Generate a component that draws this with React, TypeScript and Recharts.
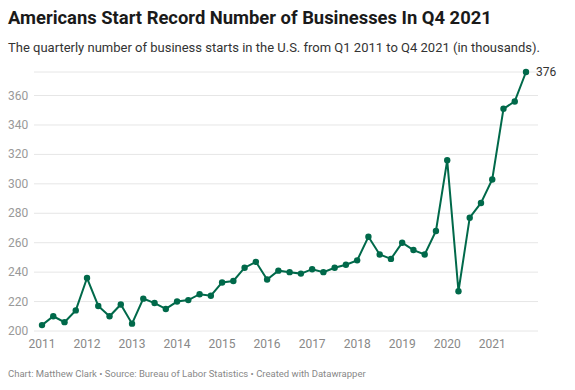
import React from "react";
import { LineChart, Line, XAxis, YAxis, CartesianGrid, LabelList } from "recharts";

const quarters = [
  "Q1 2011", "Q2 2011", "Q3 2011", "Q4 2011",
  "Q1 2012", "Q2 2012", "Q3 2012", "Q4 2012",
  "Q1 2013", "Q2 2013", "Q3 2013", "Q4 2013",
  "Q1 2014", "Q2 2014", "Q3 2014", "Q4 2014",
  "Q1 2015", "Q2 2015", "Q3 2015", "Q4 2015",
  "Q1 2016", "Q2 2016", "Q3 2016", "Q4 2016",
  "Q1 2017", "Q2 2017", "Q3 2017", "Q4 2017",
  "Q1 2018", "Q2 2018", "Q3 2018", "Q4 2018",
  "Q1 2019", "Q2 2019", "Q3 2019", "Q4 2019",
  "Q1 2020", "Q2 2020", "Q3 2020", "Q4 2020",
  "Q1 2021", "Q2 2021", "Q3 2021", "Q4 2021",
];

const starts = [
  204, 210, 206, 214,
  236, 217, 210, 218,
  205, 222, 219, 215,
  220, 221, 225, 224,
  233, 234, 243, 247,
  235, 241, 240, 239,
  242, 240, 243, 245,
  248, 264, 252, 249,
  260, 255, 252, 268,
  316, 227, 277, 287,
  303, 351, 356, 376,
];

const yTicks = [200, 220, 240, 260, 280, 300, 320, 340, 360];
const yearTicks = [0, 4, 8, 12, 16, 20, 24, 28, 32, 36, 40];
const yearLabels = ["2011", "2012", "2013", "2014", "2015", "2016", "2017", "2018", "2019", "2020", "2021"];

const data = quarters.map((q, i) => ({ i, quarter: q, value: starts[i] }));

const GREEN = "#00694a";
const FONT = "Roboto, 'Noto Sans', sans-serif";

const YTick = (props: any) => {
  const { y, payload } = props;
  return (
    <text x={8} y={y} dy={4} fill="#999" fontSize={12} fontFamily={FONT} textAnchor="start">
      {payload.value}
    </text>
  );
};

const LastLabel = (props: any) => {
  const { x, y, index, value } = props;
  if (index !== starts.length - 1) return null;
  return (
    <text x={x + 10} y={y} dy={4} fill="#333" fontSize={12} fontFamily={FONT}>
      {value}
    </text>
  );
};

export default function App() {
  return (
    <div style={{ position: "relative", width: 575, height: 390, background: "#fff", fontFamily: FONT }}>
      <style>{`body{margin:0}`}</style>
      <div style={{ position: "absolute", left: 8, top: 7, fontSize: 18.4, fontWeight: 700, color: "#1a1a1a", whiteSpace: "nowrap" }}>
        Americans Start Record Number of Businesses In Q4 2021
      </div>
      <div style={{ position: "absolute", left: 8, top: 40, fontSize: 13, color: "#333", whiteSpace: "nowrap" }}>
        The quarterly number of business starts in the U.S. from Q1 2011 to Q4 2021 (in thousands).
      </div>
      <div style={{ position: "absolute", left: 0, top: 0 }}>
        <LineChart width={575} height={360} data={data} margin={{ top: 72, right: 37, bottom: 9, left: 8 }}>
          <CartesianGrid vertical={false} stroke="#e6e6e6" />
          <XAxis
            dataKey="i"
            type="number"
            domain={[0, 43]}
            ticks={yearTicks}
            tickFormatter={(v: number) => yearLabels[v / 4]}
            padding={{ left: 8, right: 12 }}
            axisLine={false}
            tickLine={false}
            height={20}
            tick={{ fill: "#888", fontSize: 12, fontFamily: FONT }}
          />
          <YAxis
            domain={[200, 376]}
            ticks={yTicks}
            width={26}
            axisLine={false}
            tickLine={false}
            tick={<YTick />}
          />
          <Line
            dataKey="value"
            stroke={GREEN}
            strokeWidth={2}
            dot={{ r: 3.2, fill: GREEN, stroke: GREEN, strokeWidth: 0 }}
            activeDot={false}
            isAnimationActive={false}
          >
            <LabelList dataKey="value" content={<LastLabel />} />
          </Line>
        </LineChart>
      </div>
      <div style={{ position: "absolute", left: 8, top: 368, fontSize: 9.5, color: "#888", whiteSpace: "nowrap" }}>
        Chart: Matthew Clark • Source: Bureau of Labor Statistics • Created with Datawrapper
      </div>
    </div>
  );
}
